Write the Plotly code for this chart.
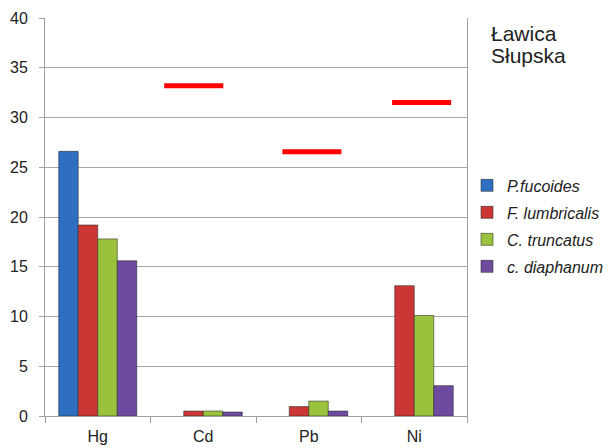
import plotly.graph_objects as go

categories = ["Hg", "Cd", "Pb", "Ni"]
series_names = ["P.fucoides", "F. lumbricalis", "C. truncatus", "c. diaphanum"]
p_fucoides = [26.6, None, None, None]
f_lumbricalis = [19.2, 0.5, 0.95, 13.1]
c_truncatus = [17.8, 0.5, 1.5, 10.1]
c_diaphanum = [15.6, 0.4, 0.5, 3.05]
limits = [None, 33.2, 26.55, 31.5]
y_ticks = [0, 5, 10, 15, 20, 25, 30, 35, 40]
title_lines = ["Ławica", "Słupska"]

colors = ["#2f6fc2", "#cc3634", "#9bc23c", "#6f4b9f"]
limit_shift = [0, -0.09, 0.03, 0.07]
half_len = 0.28

fig = go.Figure()
xs = list(range(len(categories)))
for name, vals, col in zip(series_names, [p_fucoides, f_lumbricalis, c_truncatus, c_diaphanum], colors):
    fig.add_trace(go.Bar(
        x=xs, y=vals, name=name, legendgroup=name,
        marker=dict(color=col, line=dict(color="rgba(40,40,40,0.55)", width=1)),
    ))

for i, lim in enumerate(limits):
    if lim is None:
        continue
    c = i + limit_shift[i]
    fig.add_trace(go.Scatter(
        x=[c - half_len, c + half_len], y=[lim, lim], mode="lines",
        line=dict(color="#ff0000", width=5), showlegend=False, hoverinfo="skip",
    ))

for txt, yy in zip(title_lines, [0.961, 0.907]):
    fig.add_annotation(
        text=txt, xref="paper", yref="paper",
        x=1.052, y=yy, xanchor="left", yanchor="middle", align="left", showarrow=False,
        font=dict(family="Liberation Sans, Arial, sans-serif", size=21, color="#222222"),
    )

fig.update_layout(
    width=613, height=448,
    margin=dict(l=37, r=154, t=10, b=40, autoexpand=False),
    paper_bgcolor="white", plot_bgcolor="white",
    barmode="group", bargap=0.26, bargroupgap=0,
    font=dict(family="Liberation Sans, Arial, sans-serif", size=15, color="#222222"),
    legend=dict(
        x=1.0, y=0.622, xanchor="left", yanchor="top",
        bgcolor="rgba(0,0,0,0)",
        font=dict(size=16, style="italic", color="#222222"),
        traceorder="grouped", tracegroupgap=3.2, itemwidth=30,
    ),
    xaxis=dict(
        range=[-0.5, 3.5], tickmode="array", tickvals=xs, ticktext=categories,
        ticks="", showgrid=False, showline=True, linecolor="#a0a0a0", linewidth=1,
        tickfont=dict(size=16), automargin=False, ticklabelstandoff=6,
        minor=dict(tickmode="array", tickvals=[-0.5, 0.5, 1.5, 2.5, 3.5],
                   ticks="outside", ticklen=6, tickcolor="#a0a0a0", showgrid=False),
        zeroline=False, fixedrange=True,
    ),
    yaxis=dict(
        range=[0, 40], tickmode="array", tickvals=y_ticks,
        ticks="outside", ticklen=5, tickcolor="#a0a0a0", ticklabelstandoff=8,
        showgrid=True, gridcolor="#a8a8a8", gridwidth=1,
        showline=True, linecolor="#a0a0a0", linewidth=1, mirror=True,
        zeroline=False, tickfont=dict(size=16), automargin=False,
    ),
)

fig.write_html("out.html")
